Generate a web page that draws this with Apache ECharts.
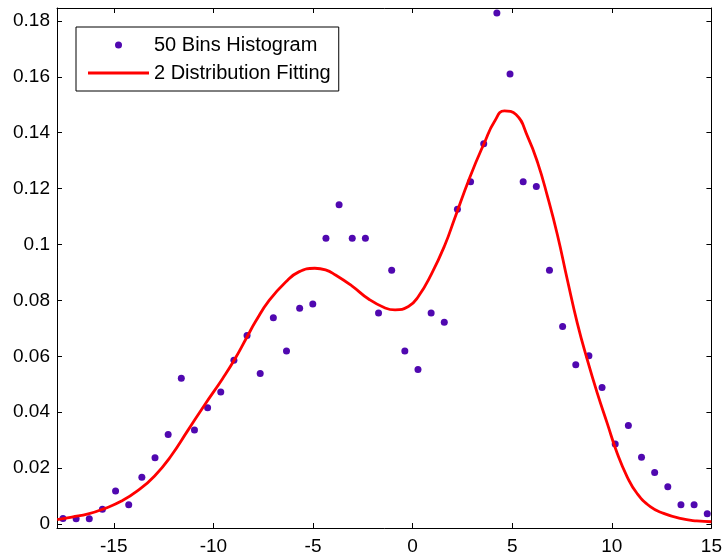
<!DOCTYPE html>
<html>
<head>
<meta charset="utf-8">
<script src="https://cdn.jsdelivr.net/npm/echarts@6/dist/echarts.min.js"></script>
<style>
  html, body { margin: 0; padding: 0; background: #fff; }
  #chart { width: 725px; height: 559px; }
</style>
</head>
<body>
<div id="chart"></div>
<script>
// Histogram bin centres and normalised heights (50 bins)
const binCenters = [-17.55, -16.89, -16.23, -15.57, -14.91, -14.25, -13.59, -12.93, -12.27, -11.61,
                    -10.95, -10.29, -9.63, -8.97, -8.31, -7.65, -6.99, -6.33, -5.67, -5.01,
                    -4.35, -3.69, -3.03, -2.37, -1.71, -1.05, -0.39, 0.27, 0.93, 1.59,
                    2.25, 2.91, 3.57, 4.23, 4.89, 5.55, 6.21, 6.87, 7.53, 8.19,
                    8.85, 9.51, 10.17, 10.83, 11.49, 12.15, 12.81, 13.47, 14.13, 14.79];
const binHeights = [0.0020, 0.0019, 0.0019, 0.0053, 0.0118, 0.0069, 0.0167, 0.0237, 0.0320, 0.0521,
                    0.0336, 0.0416, 0.0472, 0.0586, 0.0674, 0.0538, 0.0738, 0.0619, 0.0772, 0.0787,
                    0.1022, 0.1142, 0.1022, 0.1022, 0.0755, 0.0908, 0.0619, 0.0553, 0.0755, 0.0722,
                    0.1126, 0.1224, 0.1360, 0.1828, 0.1610, 0.1224, 0.1207, 0.0908, 0.0707, 0.0570,
                    0.0602, 0.0488, 0.0286, 0.0352, 0.0239, 0.0184, 0.0133, 0.0069, 0.0069, 0.0037];

// Two-component fitted density, sampled along x
const fitX = [-17.84, -17.10, -16.28, -15.44, -14.61, -13.78, -12.95, -12.11, -11.28, -10.45,
              -9.54, -8.92, -8.32, -7.87, -7.20, -6.37, -5.71, -4.91, -4.37, -3.87,
              -3.05, -2.21, -1.38, -0.88, -0.21, 0.28, 0.95, 1.62, 2.12, 2.87,
              3.61, 4.11, 4.61, 5.19, 5.78, 6.28, 6.77, 7.27, 7.77, 8.27,
              8.77, 9.27, 9.77, 10.27, 10.77, 11.26, 11.93, 12.60, 13.43, 14.26, 15.0];
const fitY = [0.0016, 0.0025, 0.0036, 0.0056, 0.0082, 0.0120, 0.0172, 0.0245, 0.0335, 0.0425,
              0.0520, 0.0590, 0.0668, 0.0726, 0.0800, 0.0866, 0.0902, 0.0915, 0.0909, 0.0891,
              0.0852, 0.0805, 0.0773, 0.0766, 0.0778, 0.0813, 0.0895, 0.0998, 0.1095, 0.1240,
              0.1365, 0.1440, 0.1478, 0.1465, 0.1385, 0.1292, 0.1172, 0.1034, 0.0873, 0.0718,
              0.0587, 0.0468, 0.0360, 0.0253, 0.0169, 0.0110, 0.0062, 0.0038, 0.0020, 0.0011, 0.0008];

// Tick positions
const xTicks = [-15, -10, -5, 0, 5, 10, 15];
const yTicks = [0, 0.02, 0.04, 0.06, 0.08, 0.1, 0.12, 0.14, 0.16, 0.18];

const seriesNames = ['50 Bins Histogram', '2 Distribution Fitting'];

const X_MIN = -17.85, X_MAX = 15;
const Y_MIN = -0.00143, Y_MAX = 0.1846;
const FONT = '"Liberation Sans", Arial, Helvetica, sans-serif';

const chart = echarts.init(document.getElementById('chart'), null, { renderer: 'canvas' });

const boxLine = { show: true, onZero: false, lineStyle: { color: '#000', width: 1 } };
const tickStyle = (vals) => ({ show: true, inside: true, length: 5, customValues: vals, lineStyle: { color: '#000' } });

const option = {
  animation: false,
  backgroundColor: '#fff',
  textStyle: { fontFamily: FONT },
  grid: { left: 57, right: 9, top: 8, bottom: 31, containLabel: false },
  legend: {
    data: [
      { name: seriesNames[0], icon: 'circle' },
      { name: seriesNames[1], icon: 'path://M0 0H60V3H0Z' }
    ],
    orient: 'vertical',
    left: 76,
    top: 27,
    itemWidth: 61,
    itemHeight: 7,
    itemGap: 8,
    itemTextGap: 6,
    symbolKeepAspect: true,
    padding: [8, 8, 8, 12],
    borderColor: '#000',
    borderWidth: 1,
    backgroundColor: '#fff',
    textStyle: { fontFamily: FONT, fontSize: 20, color: '#000' }
  },
  xAxis: [
    {
      type: 'value', position: 'bottom', min: X_MIN, max: X_MAX,
      axisLine: boxLine,
      axisTick: tickStyle(xTicks),
      axisLabel: { show: true, customValues: xTicks, margin: 9, color: '#000', fontSize: 19, fontFamily: FONT },
      splitLine: { show: false }
    },
    {
      type: 'value', position: 'top', min: X_MIN, max: X_MAX,
      axisLine: boxLine,
      axisTick: tickStyle(xTicks),
      axisLabel: { show: false },
      splitLine: { show: false }
    }
  ],
  yAxis: [
    {
      type: 'value', position: 'left', min: Y_MIN, max: Y_MAX,
      axisLine: boxLine,
      axisTick: tickStyle(yTicks),
      axisLabel: {
        show: true, customValues: yTicks, margin: 7, color: '#000', fontSize: 19, fontFamily: FONT,
        formatter: v => (Math.abs(v) < 1e-9 ? '0' : String(+v.toFixed(2)))
      },
      splitLine: { show: false }
    },
    {
      type: 'value', position: 'right', min: Y_MIN, max: Y_MAX,
      axisLine: boxLine,
      axisTick: tickStyle(yTicks),
      axisLabel: { show: false },
      splitLine: { show: false }
    }
  ],
  series: [
    {
      name: seriesNames[0],
      type: 'scatter',
      xAxisIndex: 0, yAxisIndex: 0,
      symbol: 'circle',
      symbolSize: 7,
      itemStyle: { color: '#5008b0', opacity: 1 },
      data: binCenters.map((x, i) => [x, binHeights[i]]),
      z: 3
    },
    {
      name: seriesNames[1],
      type: 'line',
      xAxisIndex: 0, yAxisIndex: 0,
      symbol: 'none',
      showSymbol: false,
      smooth: 0.5,
      lineStyle: { color: '#ff0000', width: 2.8 },
      itemStyle: { color: '#ff0000' },
      data: fitX.map((x, i) => [x, fitY[i]]),
      z: 4
    }
  ]
};

chart.setOption(option);
</script>
</body>
</html>
